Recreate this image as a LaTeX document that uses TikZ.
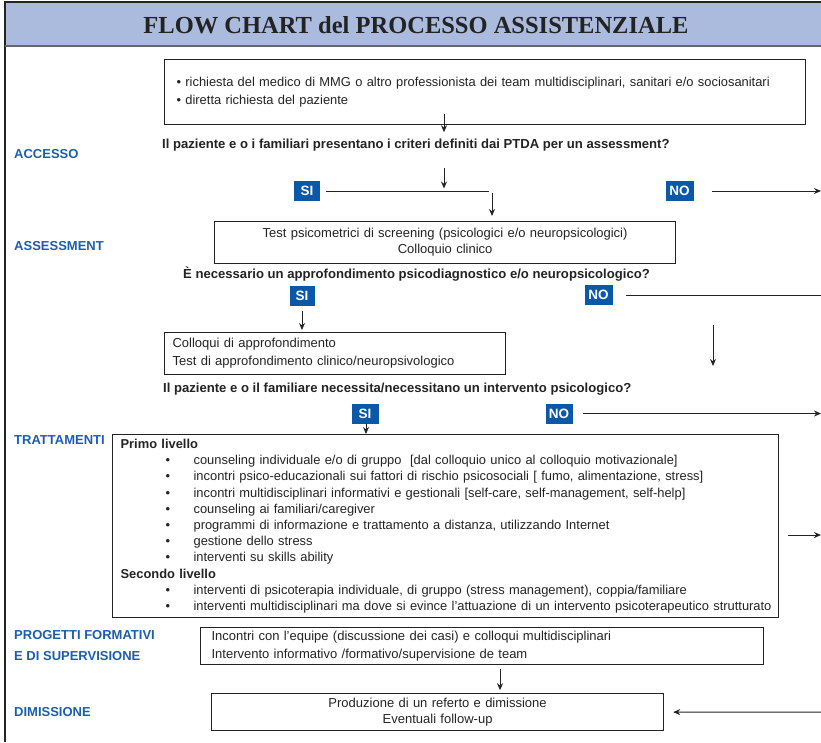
\documentclass[tikz,border=0pt]{standalone}
\usepackage{fontspec}
\setmainfont{Liberation Sans}
\newfontfamily\titlefont{Liberation Serif}
\usetikzlibrary{arrows.meta,calc}
\definecolor{bandblue}{RGB}{170,187,222}
\definecolor{labelblue}{RGB}{28,94,172}
\definecolor{tagblue}{RGB}{12,88,168}
\definecolor{ink}{RGB}{35,35,35}
\newcommand\listpt{\hspace*{45pt}\makebox[28pt][l]{\textbullet}}
\tikzset{
  box/.style={draw=ink, line width=1.2pt, inner ysep=0pt, anchor=north west, text=ink},
  phase/.style={text=labelblue, font=\fontsize{13}{21}\selectfont\bfseries, anchor=base west, align=left, inner sep=0pt},
  question/.style={font=\fontsize{13.1}{15}\selectfont\bfseries, text=ink, anchor=base west, inner sep=0pt},
  tag/.style={fill=tagblue, text=white, font=\fontsize{13.5}{13.5}\selectfont\bfseries, inner sep=0pt, minimum height=20pt},
  arr/.style={draw=ink, line width=1pt, -{Stealth[length=7pt,width=6pt]}},
  link/.style={draw=ink, line width=1pt},
}
\begin{document}
\begin{tikzpicture}[x=1pt,y=-1pt]
\useasboundingbox (0,0) rectangle (821,742);

% frame and title band
\fill[bandblue] (5,2) rectangle (821,46);
\draw[ink, line width=1.3pt] (5,742) -- (5,2) -- (821,2);
\draw[gray!80!black, line width=1.3pt] (5,46) -- (821,46);
\node[font=\titlefont\fontsize{24.5}{25}\selectfont\bfseries, text=ink] (title) at (416,25) {FLOW CHART del PROCESSO ASSISTENZIALE};

% phase labels
\node[phase] (acc) at (14,158.5) {ACCESSO};
\node[phase] (ass) at (14,250.5) {ASSESSMENT};
\node[phase] (trt) at (14,444.5) {TRATTAMENTI};
\node[phase] (prg) at (14,660) {PROGETTI FORMATIVI\\E DI SUPERVISIONE};
\node[phase] (dim) at (14,716.5) {DIMISSIONE};

% boxes
\node[box, minimum width=641pt, minimum height=65pt, inner xsep=12pt, text width=617pt, align=left,
      font=\fontsize{12.9}{18}\selectfont] (b1) at (164,59)
  {\textbullet\ richiesta del medico di MMG o altro professionista dei team multidisciplinari, sanitari e/o sociosanitari\\
   \textbullet\ diretta richiesta del paziente};

\node[box, minimum width=461pt, minimum height=42pt, inner xsep=0pt, text width=461pt, align=center,
      font=\fontsize{13}{16}\selectfont] (b2) at (214,221)
  {Test psicometrici di screening (psicologici e/o neuropsicologici)\\Colloquio clinico};

\node[box, minimum width=341pt, minimum height=42pt, inner xsep=8pt, text width=325pt, align=left,
      font=\fontsize{13}{18}\selectfont] (b3) at (164,332)
  {Colloqui di approfondimento\\Test di approfondimento clinico/neuropsivologico};

\node[box, minimum width=666pt, minimum height=183pt, inner xsep=8pt, text width=650pt, align=left,
      font=\fontsize{12.9}{16.2}\selectfont] (b4) at (112,434)
  {\textbf{Primo livello}\\
   \listpt counseling individuale e/o di gruppo~~[dal colloquio unico al colloquio motivazionale]\\
   \listpt incontri psico-educazionali sui fattori di rischio psicosociali [ fumo, alimentazione, stress]\\
   \listpt incontri multidisciplinari informativi e gestionali [self-care, self-management, self-help]\\
   \listpt counseling ai familiari/caregiver\\
   \listpt programmi di informazione e trattamento a distanza, utilizzando Internet\\
   \listpt gestione dello stress\\
   \listpt interventi su skills ability\\
   \textbf{Secondo livello}\\
   \listpt interventi di psicoterapia individuale, di gruppo (stress management), coppia/familiare\\
   \listpt \mbox{interventi multidisciplinari ma dove si evince l'attuazione di un intervento psicoterapeutico strutturato}};

\node[box, minimum width=563pt, minimum height=37pt, inner xsep=11pt, text width=541pt, align=left,
      font=\fontsize{13}{18}\selectfont] (b5) at (200,627)
  {Incontri con l'equipe (discussione dei casi) e colloqui multidisciplinari\\Intervento informativo /formativo/supervisione de team};

\node[box, minimum width=452pt, minimum height=37pt, inner xsep=0pt, text width=452pt, align=center,
      font=\fontsize{13}{15.5}\selectfont] (b6) at (211,693)
  {Produzione di un referto e dimissione\\Eventuali follow-up};

% questions
\node[question] (q1) at (162,148.5) {Il paziente e o i familiari presentano i criteri definiti dai PTDA per un assessment?};
\node[question] (q2) at (183,278) {È necessario un approfondimento psicodiagnostico e/o neuropsicologico?};
\node[question] (q3) at (163,392) {Il paziente e o il familiare necessita/necessitano un intervento psicologico?};

% answer tags
\node[tag, minimum width=26pt] (si1) at (307,191) {SI};
\node[tag, minimum width=28pt] (no1) at (679.5,191) {NO};
\node[tag, minimum width=25pt] (si2) at (302,296) {SI};
\node[tag, minimum width=28pt] (no2) at (598.5,295) {NO};
\node[tag, minimum width=27pt] (si3) at (365,413.5) {SI};
\node[tag, minimum width=27pt] (no3) at (559,413.5) {NO};

% free ends of connectors
\coordinate (j1) at (489,190);
\coordinate (e1) at (821,190);
\coordinate (e2) at (821,295);
\coordinate (d1) at (713,325);
\coordinate (d2) at (713,366);
\coordinate (e3) at (821,413);
\coordinate (t1) at (788,535);
\coordinate (t2) at (821,535);
\coordinate (e4) at (821,712);

% connectors
\draw[arr] ($(b1.south west)+(280,-11)$) -- ($(b1.south west)+(280,7)$);
\draw[arr] ($(q1.base west)+(282,19)$) -- ($(q1.base west)+(282,40)$);
\draw[link] ($(si1.east)+(6,0)$) -- (si1.east -| j1);
\draw[arr] ($(si1.east -| j1)+(3,2)$) -- ($(b2.north west)+(278,-5)$);
\draw[arr] ($(no1.east)+(18,0)$) -- (no1.east -| e1);
\draw[arr] ($(si2.south)+(0,5)$) -- ($(b3.north west)+(138,-2)$);
\draw[link] ($(no2.east)+(13,0)$) -- (no2.east -| e2);
\draw[arr] (d1) -- (d2);
\draw[arr] ($(si3.south)+(1,0)$) -- ($(b4.north -| si3.south)+(1,0)$);
\draw[arr] ($(no3.east)+(10,0)$) -- (no3.east -| e3);
\draw[arr] (t1) -- (t2);
\draw[arr] ($(b5.south west)+(300,4)$) -- ($(b5.south west)+(300,25)$);
\draw[arr] (e4) -- ($(b6.east)+(9,0)$);
\end{tikzpicture}
\end{document}
